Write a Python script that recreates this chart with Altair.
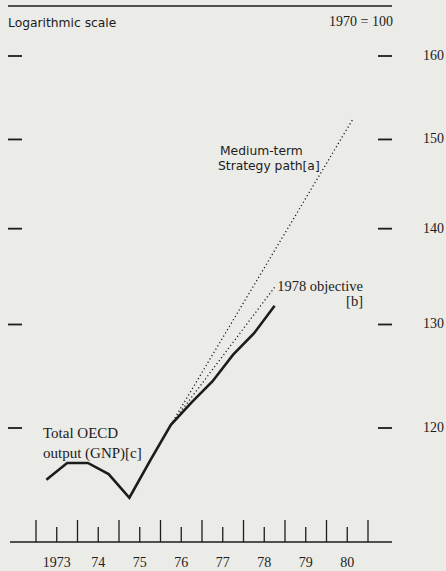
import altair as alt
import pandas as pd

# ---- data ----
gnp_years = [1973.25, 1973.75, 1974.25, 1974.75, 1975.25, 1975.75,
             1976.25, 1976.75, 1977.25, 1977.75, 1978.25, 1978.75]
gnp_values = [115.3, 116.8, 116.8, 115.8, 113.7, 117.0,
              120.3, 122.4, 124.4, 127.0, 129.1, 131.9]

mts_years = [1976.25, 1980.65]
mts_values = [120.3, 152.5]

obj_years = [1976.25, 1978.75]
obj_values = [120.3, 133.8]

y_ticks = [120, 130, 140, 150, 160]
year_ticks = [1973, 1974, 1975, 1976, 1977, 1978, 1979, 1980, 1981]
mid_ticks = [1973.5, 1974.5, 1975.5, 1976.5, 1977.5, 1978.5, 1979.5, 1980.5]
mid_labels = ["1973", "74", "75", "76", "77", "78", "79", "80"]

# ---- tables ----
gnp_df = pd.DataFrame({"year": gnp_years, "v": gnp_values})
mts_df = pd.DataFrame({"year": mts_years, "v": mts_values})
obj_df = pd.DataFrame({"year": obj_years, "v": obj_values})
yt_df = pd.DataFrame({"v": y_ticks, "label": [str(v) for v in y_ticks]})
major_df = pd.DataFrame({"year": year_ticks})
minor_df = pd.DataFrame({"year": mid_ticks, "label": mid_labels})

INK = "#1c1c1c"
SERIF = "Liberation Serif"
SANS = "DejaVu Sans"

xs = alt.Scale(domain=[1973, 1981], range=[36, 368], zero=False, nice=False)
ys = alt.Scale(type="log", domain=[120, 160], range=[428, 56], zero=False, nice=False)

X = lambda f="year": alt.X(f"{f}:Q", scale=xs, axis=None)
Y = lambda f="v": alt.Y(f"{f}:Q", scale=ys, axis=None)

solid = alt.Chart(gnp_df).mark_line(color=INK, strokeWidth=2.6, strokeJoin="miter").encode(
    x=X(), y=Y())

mts = alt.Chart(mts_df).mark_line(color=INK, strokeWidth=1.3, strokeDash=[1.2, 2.6]).encode(
    x=X(), y=Y())
obj = alt.Chart(obj_df).mark_line(color=INK, strokeWidth=1.3, strokeDash=[1.2, 2.6]).encode(
    x=X(), y=Y())

# y dashes left and right
ytick_left = alt.Chart(yt_df).mark_rule(color=INK, strokeWidth=1.8).encode(
    y=Y(), x=alt.value(8), x2=alt.value(22))
ytick_right = alt.Chart(yt_df).mark_rule(color=INK, strokeWidth=1.8).encode(
    y=Y(), x=alt.value(378), x2=alt.value(392))
ylabels = alt.Chart(yt_df).mark_text(font=SERIF, fontSize=14, color=INK, align="left",
                                     baseline="middle").encode(
    y=Y(), x=alt.value(423), text="label:N")

# x axis
x_base = alt.Chart(pd.DataFrame({"k": [0]})).mark_rule(color=INK, strokeWidth=1.3).encode(
    x=alt.value(10), x2=alt.value(392), y=alt.value(542))
x_major = alt.Chart(major_df).mark_rule(color=INK, strokeWidth=1.3).encode(
    x=X(), y=alt.value(520), y2=alt.value(542))
x_minor = alt.Chart(minor_df).mark_rule(color=INK, strokeWidth=1.3).encode(
    x=X(), y=alt.value(527), y2=alt.value(542))
x_labels = alt.Chart(minor_df).mark_text(font=SERIF, fontSize=14, color=INK,
                                          baseline="middle").encode(
    x=X(), y=alt.value(563), text="label:N")

# top rule and header texts
top_rule = alt.Chart(pd.DataFrame({"k": [0]})).mark_rule(color=INK, strokeWidth=1.3).encode(
    x=alt.value(8), x2=alt.value(392), y=alt.value(6))

def txt(s, x, y, font, size, align="left"):
    return alt.Chart(pd.DataFrame({"t": [s]})).mark_text(
        font=font, fontSize=size, color=INK, align=align, baseline="middle").encode(
        x=alt.value(x), y=alt.value(y), text="t:N")

texts = [
    txt("Logarithmic scale", 8, 23, SANS, 12.3),
    txt("1970 = 100", 393, 22, SERIF, 14, "right"),
    txt("Medium-term", 220, 150.5, SANS, 12.3),
    txt("Strategy path[a]", 218, 165.5, SANS, 12.3),
    txt("1978 objective", 363, 287, SERIF, 14.5, "right"),
    txt("[b]", 363, 302, SERIF, 14.5, "right"),
    txt("Total OECD", 43, 433, SERIF, 15),
    txt("output (GNP)[c]", 43, 453, SERIF, 15),
]

chart = alt.layer(
    top_rule, ytick_left, ytick_right, ylabels,
    x_base, x_major, x_minor, x_labels,
    mts, obj, solid, *texts
).properties(
    width=446, height=571, padding=0, autosize="none", background="#ebebe7"
).configure_view(stroke=None)

chart.save("out.html", embed_options={"renderer": "svg", "actions": False})
